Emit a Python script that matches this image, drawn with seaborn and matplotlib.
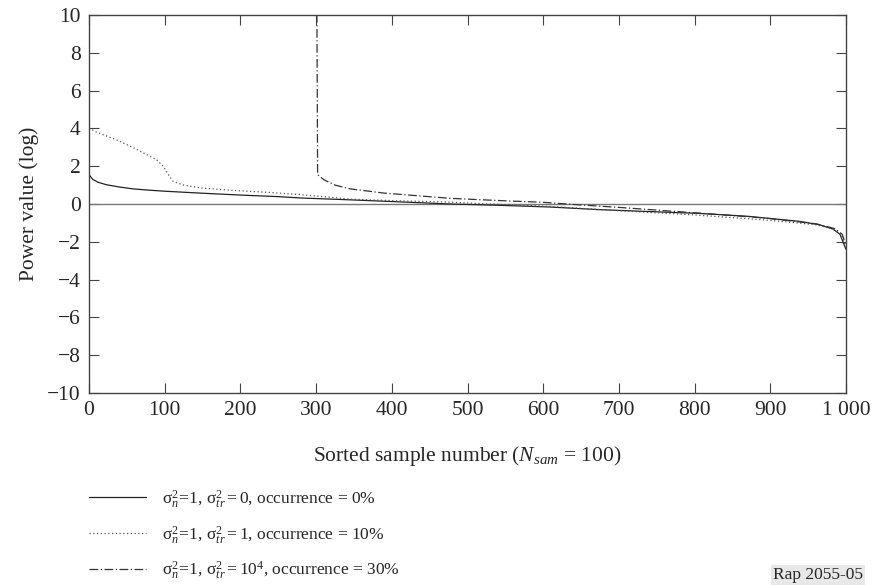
import numpy as np
import pandas as pd
import seaborn as sns
import matplotlib
matplotlib.use("Agg")
import matplotlib.pyplot as plt
from matplotlib.ticker import FuncFormatter

sns.set_theme(style="ticks")
plt.rcParams['font.family'] = ['Liberation Serif', 'DejaVu Serif']
plt.rcParams['mathtext.fontset'] = 'custom'
plt.rcParams['mathtext.rm'] = 'Liberation Serif'
plt.rcParams['mathtext.it'] = 'Liberation Serif:italic'

# --- data ---
x_solid = [0, 5, 12, 23, 40, 58, 80, 103, 150, 191, 213, 250, 279, 345, 400, 477, 543, 609,
           675, 740, 807, 870, 939, 965, 983, 992, 996, 1000]
y_solid = [1.55, 1.3, 1.15, 1.02, 0.9, 0.8, 0.73, 0.67, 0.57, 0.49, 0.45, 0.39, 0.32, 0.22, 0.13, 0.0,
           -0.07, -0.16, -0.3, -0.4, -0.5, -0.65, -0.92, -1.1, -1.33, -1.6, -2.0, -2.4]

x_dot = [0, 10, 36, 60, 89, 98, 105, 111, 125, 147, 190, 235, 279, 345, 400, 477, 530, 609,
         719, 800, 895, 961, 985, 995, 1000]
y_dot = [4.02, 3.8, 3.4, 2.95, 2.35, 2.0, 1.55, 1.2, 1.0, 0.85, 0.72, 0.62, 0.5, 0.26, 0.18, 0.1,
         0.0, -0.13, -0.4, -0.58, -0.85, -1.1, -1.35, -1.7, -2.3]

x_dash = [0, 300, 301, 302, 310, 325, 345, 389, 433, 477, 543, 600, 631, 700, 763, 830, 895,
          961, 985, 995, 1000]
y_dash = [13.0, 11.0, 10.5, 1.55, 1.29, 1.0, 0.8, 0.58, 0.44, 0.3, 0.18, 0.09, 0.0, -0.18, -0.36,
          -0.55, -0.75, -1.05, -1.3, -1.6, -2.2]

labels = [
    r'$\mathrm{\sigma}^2_{n}\!=\!1,\,\mathrm{\sigma}^2_{tr}=0$, occurrence = 0%',
    r'$\mathrm{\sigma}^2_{n}\!=\!1,\,\mathrm{\sigma}^2_{tr}=1$, occurrence = 10%',
    r'$\mathrm{\sigma}^2_{n}\!=\!1,\,\mathrm{\sigma}^2_{tr}=10^4$, occurrence = 30%',
]

df = pd.concat([
    pd.DataFrame({'x': x_solid, 'y': y_solid, 's': labels[0]}),
    pd.DataFrame({'x': x_dot, 'y': y_dot, 's': labels[1]}),
    pd.DataFrame({'x': x_dash, 'y': y_dash, 's': labels[2]}),
])

fig = plt.figure(figsize=(8.75, 5.85), dpi=100)
ax = fig.add_axes([89/875, 1-393/585, (846-89)/875, (393-15)/585])

ax.axhline(0, color='#777777', lw=1.0, zorder=1)

styles = {labels[0]: '-', labels[1]: (0, (1, 2)), labels[2]: (0, (7, 2, 1, 2))}
colors = {labels[0]: '#222222', labels[1]: '#555555', labels[2]: '#333333'}
handles = []
for lab in labels:
    sub = df[df['s'] == lab]
    sns.lineplot(data=sub, x='x', y='y', ax=ax, color=colors[lab], lw=0.9,
                 linestyle=styles[lab], estimator=None, sort=False, legend=False)
    handles.append(plt.Line2D([], [], color=colors[lab], lw=0.9, linestyle=styles[lab]))

ax.set_xlim(0, 1000)
ax.set_ylim(-10, 10)
ax.set_xticks(np.arange(0, 1001, 100))
ax.set_yticks(np.arange(-10, 11, 2))
ax.xaxis.set_major_formatter(FuncFormatter(lambda v, p: '1 000' if v == 1000 else f'{int(v)}'))
ax.yaxis.set_major_formatter(FuncFormatter(lambda v, p: f'{int(v)}'.replace('-', '\u2212')))
ax.tick_params(direction='in', top=True, right=True, length=7, width=0.8,
               labelsize=15.5, color='#444444', pad=6)
for sp in ax.spines.values():
    sp.set_color('#444444')
    sp.set_linewidth(1.0)

ax.set_xlabel(r'Sorted sample number ($N_{sam}$ = 100)', fontsize=15.5, labelpad=17)
ax.set_ylabel('Power value (log)', fontsize=15.5, labelpad=6)

fig.legend(handles, labels, loc='upper left', bbox_to_anchor=(82/875, 1-481/585),
           frameon=False, fontsize=12.5, handlelength=3.3, handletextpad=0.9,
           labelspacing=0.8, borderaxespad=0)

fig.text(773/875, 1-575/585, 'Rap 2055-05', fontsize=12.5, va='center', ha='left',
         bbox=dict(facecolor='#e8e8e8', edgecolor='none', pad=1.5))

fig.savefig('out.png', dpi=100)
